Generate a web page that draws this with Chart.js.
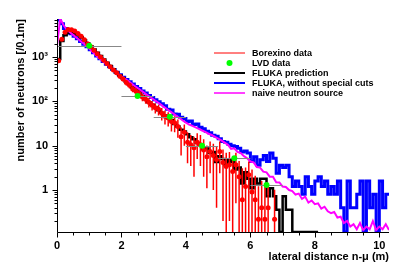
<!DOCTYPE html>
<html>
<head>
<meta charset="utf-8">
<script src="https://cdn.jsdelivr.net/npm/chart.js@4"></script>
<style>
  html, body { margin: 0; padding: 0; background: #fff; }
</style>
</head>
<body>
<canvas id="graph" width="417" height="266"></canvas>
<script>
var binWidth = 0.1;
var seriesNames  = ['Borexino data', 'LVD data', 'FLUKA prediction', 'FLUKA, without special cuts', 'naive neutron source'];
var seriesColors = ['#ff0000', '#00ff00', '#000000', '#0000ff', '#ff00ff'];

// Borexino: one point per 0.1 m bin (bin centres), 0 = empty bin
var borexino = [820, 2500, 3600, 4200, 4100, 3850, 3400, 2950, 2450, 2000,
    1700, 1420, 1180, 1000, 840, 710, 600, 510, 440, 370,
    320, 265, 230, 190, 170, 150, 125, 112, 95, 82,
    72, 66, 54, 46, 42, 35, 33, 27, 16, 20,
    12, 10.5, 9, 12, 10.5, 8, 5.6, 7.4, 6, 4.9,
    7.4, 4.2, 3.4, 3.7, 2.6, 3.7, 2.0, 0.6, 1.2, 2.2,
    0.9, 0.6, 0.22, 0.4, 0.22, 0.4, 0, 0.22];
var borexinoErr = [60, 120, 140, 150, 150, 140, 130, 120, 110, 100,
    90, 85, 75, 70, 65, 60, 55, 50, 45, 42,
    40, 36, 34, 30, 28, 27, 25, 24, 22, 20,
    19, 18, 17, 16, 15, 14, 13, 12, 10, 10,
    8, 7, 7, 7, 7, 6, 4.5, 5, 5, 4.5,
    5, 4, 3.5, 3.5, 3, 3.2, 2.5, 2.5, 2, 2.2,
    2, 1.5, 1, 1.2, 1, 1, 0, 0.8];

// LVD points with horizontal range
var lvdX    = [1, 2.5, 3.5, 4.5, 5.5, 6.5];
var lvdXErr = [1, 0.5, 0.5, 0.5, 0.5, 0.5];
var lvd     = [1800, 132, 45, 10, 5.2, 1.3];

// FLUKA prediction, 0.1 m bins from 0
var fluka = [900, 2300, 3100, 3500, 3550, 3400, 3150, 2800, 2400, 2050,
    1750, 1480, 1250, 1050, 880, 740, 630, 530, 450, 385,
    330, 280, 240, 205, 175, 150, 130, 112, 96, 84,
    73, 63, 55, 48, 42, 38, 31, 27, 23, 21,
    18, 15.5, 14, 11.5, 10.8, 8.3, 8.6, 6.8, 7.2, 4.3,
    5.8, 5.0, 3.6, 4.7, 4.3, 2.9, 3.2, 1.4, 2.5, 1.8,
    1.1, 1.8, 1.4, 1.8, 1.8, 0.72, 1.1, 0.72, 0.36, 0,
    0.72, 0.36, 0.36, 0, 0, 0, 0, 0, 0, 0,
    0];

// FLUKA without special cuts, 0.1 m bins from 0
var flukaNoCuts = [6800, 5600, 4400, 3800, 3350, 2950, 2580, 2250, 1950, 1700,
    1450, 1250, 1060, 910, 790, 690, 600, 520, 455, 400,
    350, 312, 276, 246, 216, 194, 172, 154, 136, 122,
    108, 98, 88, 80, 66, 64, 52, 51, 44, 41,
    35, 36, 30, 31, 26, 24, 21.2, 19.6, 17.2, 16.4,
    14.4, 12.4, 12.0, 10.8, 10.0, 9.6, 8.8, 7.2, 7.6, 6.8,
    4.4, 5.6, 3.6, 4.8, 6.0, 4.4, 6.8, 5.2, 2.4, 3.6,
    3.2, 3.6, 2.0, 1.2, 1.6, 1.2, 0.8, 2.0, 1.2, 0.8,
    1.6, 2.0, 1.2, 1.6, 0.8, 1.2, 0.8, 1.6, 0.4, 0,
    1.6, 0.4, 0.4, 0.8, 1.6, 0, 1.6, 0.4, 0.8, 0,
    1.6, 0.4, 0.8];

// naive neutron source, value at every 0.1 m
var naive = [1780, 7400, 5250, 4170, 3630, 3160, 2750, 2400, 2090, 1820,
    1550, 1320, 1120, 955, 830, 725, 630, 550, 480, 415,
    365, 325, 290, 255, 225, 200, 178, 158, 138, 123,
    110, 98, 87, 76, 68, 60, 54, 47, 42, 37,
    33, 30, 28, 26, 24, 22, 20.4, 18.6, 17.4, 15.8,
    14.5, 13.2, 11.7, 10.5, 8.5, 8.7, 7.2, 6.8, 5.8, 5.2,
    4.4, 4.2, 3.3, 3.2, 2.6, 2.5, 2.0, 2.0, 1.5, 1.48,
    1.2, 1.17, 1.0, 0.95, 0.79, 0.83, 0.63, 0.71, 0.52, 0.58,
    0.48, 0.5, 0.38, 0.42, 0.33, 0.30, 0.32, 0.24, 0.25, 0.18,
    0.2, 0.15, 0.17, 0.13, 0.18, 0.125, 0.15, 0.13, 0.2, 0.125,
    0.15, 0.13, 0.17, 0.125];

var xTicks = [0, 2, 4, 6, 8, 10];
var yTicks = [1, 10, 100, 1000];
var yTickLabels = ['1', '10', '10²', '10³'];
var xMin = 0, xMax = 10.3;
var yMin = 0.113, yMax = 7200;

var FONT = '"Liberation Sans", Arial, Helvetica, sans-serif';

// histogram -> points at bin centres, drawn with stepped:'middle'
function histPoints(vals) {
    var pts = [];
    var fix = function(v) { return v > 0 ? v : yMin; };
    pts.push({x: 0, y: fix(vals[0])});
    for (var i = 0; i < vals.length; i++) {
        pts.push({x: (i + 0.5) * binWidth, y: fix(vals[i])});
    }
    pts.push({x: vals.length * binWidth, y: fix(vals[vals.length - 1])});
    return pts;
}

var naivePts = naive.map(function(v, i) { return {x: i * binWidth, y: v}; });
var borexinoPts = borexino.map(function(v, i) { return {x: (i + 0.5) * binWidth, y: v > 0 ? v : null}; });
var lvdPts = lvd.map(function(v, i) { return {x: lvdX[i], y: v}; });

var errorBars = {
    id: 'errorBars',
    beforeDatasetDraw: function(chart, args) {
        var ds = chart.data.datasets[args.index];
        if (!ds.errKind) return;
        var ctx = chart.ctx, xs = chart.scales.x, ys = chart.scales.y, a = chart.chartArea;
        ctx.save();
        ctx.beginPath();
        ctx.rect(a.left, a.top, a.right - a.left, a.bottom - a.top);
        ctx.clip();
        ctx.beginPath();
        if (ds.errKind === 'y') {
            ctx.strokeStyle = seriesColors[0];
            ctx.lineWidth = 1.5;
            for (var i = 0; i < borexino.length; i++) {
                var v = borexino[i], e = borexinoErr[i];
                if (!(v > 0) || !e) continue;
                var px = xs.getPixelForValue((i + 0.5) * binWidth);
                var lo = v - e > 0 ? ys.getPixelForValue(v - e) : a.bottom;
                var hi = ys.getPixelForValue(v + e);
                ctx.moveTo(px, lo);
                ctx.lineTo(px, hi);
            }
        } else {
            ctx.strokeStyle = '#888888';
            ctx.lineWidth = 1;
            for (var j = 0; j < lvd.length; j++) {
                var py = Math.round(ys.getPixelForValue(lvd[j])) + 0.5;
                ctx.moveTo(xs.getPixelForValue(lvdX[j] - lvdXErr[j]), py);
                ctx.lineTo(xs.getPixelForValue(lvdX[j] + lvdXErr[j]), py);
            }
        }
        ctx.stroke();
        ctx.restore();
    }
};

var axisTicks = {
    id: 'axisTicks',
    afterDraw: function(chart) {
        var ctx = chart.ctx, xs = chart.scales.x, ys = chart.scales.y, a = chart.chartArea;
        ctx.save();
        ctx.strokeStyle = '#000';
        ctx.lineWidth = 1;
        ctx.beginPath();
        var L = Math.round(a.left) + 0.5, B = Math.round(a.bottom) + 0.5;
        ctx.moveTo(L, Math.round(a.top));
        ctx.lineTo(L, B);
        ctx.lineTo(Math.round(a.right), B);
        for (var k = 0; k * 0.5 <= xMax + 1e-9; k++) {
            var px = Math.round(xs.getPixelForValue(k * 0.5)) + 0.5;
            ctx.moveTo(px, B);
            ctx.lineTo(px, B + (k % 4 === 0 ? 5 : 3));
        }
        for (var d = -1; d <= 3; d++) {
            for (var m = 1; m <= 9; m++) {
                var v = m * Math.pow(10, d);
                if (v < yMin || v > yMax) continue;
                var py = Math.round(ys.getPixelForValue(v)) + 0.5;
                ctx.moveTo(L, py);
                ctx.lineTo(L - (m === 1 ? 5 : 3), py);
            }
        }
        ctx.stroke();
        ctx.restore();
    }
};

var legendBox = {
    id: 'legendBox',
    afterDraw: function(chart) {
        var ctx = chart.ctx;
        var widths = [1, 0, 2, 2, 1.5];
        ctx.save();
        ctx.font = 'bold 9px ' + FONT;
        ctx.textBaseline = 'middle';
        for (var i = 0; i < seriesNames.length; i++) {
            var y = 53 + i * 10;
            if (widths[i] > 0) {
                ctx.strokeStyle = seriesColors[i];
                ctx.lineWidth = widths[i];
                ctx.beginPath();
                ctx.moveTo(214, y);
                ctx.lineTo(245, y);
                ctx.stroke();
            } else {
                ctx.fillStyle = seriesColors[i];
                ctx.beginPath();
                ctx.arc(229.5, y, 3, 0, Math.PI * 2);
                ctx.fill();
            }
            ctx.fillStyle = '#000';
            ctx.fillText(seriesNames[i], 252, y + 0.5);
        }
        ctx.restore();
    }
};

var tickFont = {family: FONT, size: 11, weight: 'bold'};

new Chart(document.getElementById('graph').getContext('2d'), {
    type: 'line',
    data: {
        datasets: [
            {
                label: seriesNames[1], data: lvdPts, errKind: 'x',
                showLine: false, pointRadius: 3, pointBorderWidth: 0,
                pointBackgroundColor: seriesColors[1], borderColor: seriesColors[1]
            },
            {
                label: seriesNames[0], data: borexinoPts, errKind: 'y',
                showLine: false, pointRadius: 2.5, pointBorderWidth: 0,
                pointBackgroundColor: seriesColors[0], borderColor: seriesColors[0]
            },
            {
                label: seriesNames[4], data: naivePts,
                borderColor: seriesColors[4], borderWidth: 2, pointRadius: 0, tension: 0
            },
            {
                label: seriesNames[2], data: histPoints(fluka), stepped: 'middle',
                borderColor: seriesColors[2], borderWidth: 2.5, pointRadius: 0
            },
            {
                label: seriesNames[3], data: histPoints(flukaNoCuts), stepped: 'middle',
                borderColor: seriesColors[3], borderWidth: 3, pointRadius: 0
            }
        ]
    },
    options: {
        responsive: false,
        animation: false,
        devicePixelRatio: 1,
        layout: { padding: { top: 19, right: 28, left: 0, bottom: 0 } },
        plugins: {
            legend: { display: false },
            tooltip: { enabled: false }
        },
        scales: {
            x: {
                type: 'linear', min: xMin, max: xMax,
                afterBuildTicks: function(s) { s.ticks = xTicks.map(function(v) { return {value: v}; }); },
                afterFit: function(s) { s.height = 34; },
                grid: { display: false, drawTicks: true, tickLength: 5 },
                border: { display: false },
                ticks: {
                    font: tickFont, color: '#000', padding: 2, maxRotation: 0, autoSkip: false,
                    callback: function(v) { return String(v); }
                },
                title: {
                    display: true, text: 'lateral distance n-μ (m)', align: 'end', color: '#000',
                    font: {family: FONT, size: 11, weight: 'bold'}, padding: {top: 0, bottom: 2}
                }
            },
            y: {
                type: 'logarithmic', min: yMin, max: yMax,
                afterBuildTicks: function(s) { s.ticks = yTicks.map(function(v) { return {value: v}; }); },
                afterFit: function(s) { s.width = 57; },
                grid: { display: false, drawTicks: true, tickLength: 5 },
                border: { display: false },
                ticks: {
                    font: tickFont, color: '#000', padding: 4, autoSkip: false,
                    callback: function(v) {
                        var k = yTicks.indexOf(v);
                        return k >= 0 ? yTickLabels[k] : '';
                    }
                },
                title: {
                    display: true, text: 'number of neutrons [/0.1m]', align: 'end', color: '#000',
                    font: {family: FONT, size: 11, weight: 'bold'}, padding: {top: 14, bottom: 0}
                }
            }
        }
    },
    plugins: [errorBars, axisTicks, legendBox]
});
</script>
</body>
</html>
